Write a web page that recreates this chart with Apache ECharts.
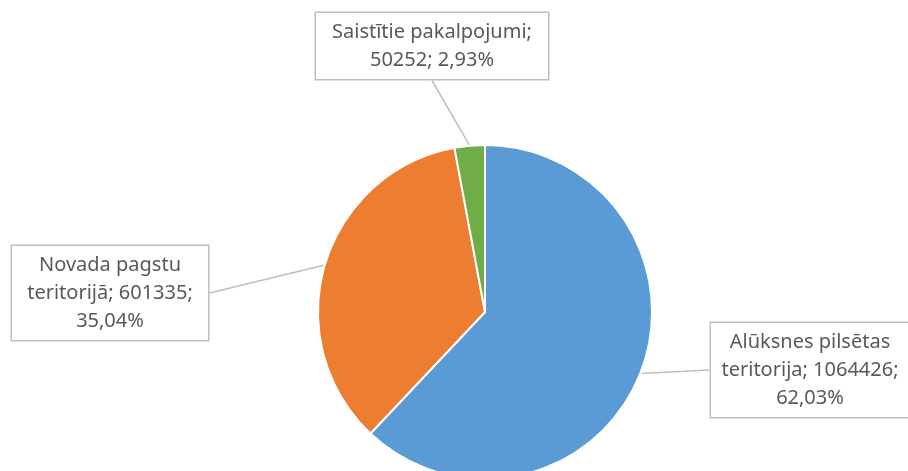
<!DOCTYPE html>
<html>
<head>
<meta charset="utf-8">
<script src="https://cdn.jsdelivr.net/npm/echarts@6/dist/echarts.min.js"></script>
<style>
  html, body { margin: 0; padding: 0; background: #fff; }
  #main { width: 908px; height: 471px; }
</style>
</head>
<body>
<div id="main"></div>
<script>
var categories = ["Alūksnes pilsētas teritorija", "Novada pagstu teritorijā", "Saistītie pakalpojumi"];
var values = [1064426, 601335, 50252];
var colors = ["#5B9BD5", "#ED7D31", "#70AD47"];

// label box centers and widths
var labelPos = [
  { x: 810, y: 370, w: 186 },
  { x: 110, y: 293, w: 184 },
  { x: 432, y: 46, w: 220 }
];

var total = values.reduce(function(a, b) { return a + b; }, 0);

var myChart = echarts.init(document.getElementById("main"));

myChart.setOption({
  animation: false,
  series: [
    {
      type: "pie",
      center: [485, 312],
      radius: 167,
      startAngle: 90,
      clockwise: true,
      itemStyle: {
        borderColor: "#fff",
        borderWidth: 2
      },
      label: {
        show: true,
        position: "outside",
        fontFamily: "Noto Sans",
        fontSize: 20,
        lineHeight: 28,
        color: "#595959",
        align: "center",
        backgroundColor: "#fff",
        borderColor: "#bfbfbf",
        borderWidth: 1.5,
        padding: [8, 6, 2, 6],
        formatter: function(p) {
          var pct = (p.value / total * 100).toFixed(2).replace(".", ",");
          if (p.dataIndex === 2) {
            return p.name + ";\n" + p.value + "; " + pct + "%";
          }
          var words = p.name.split(" ");
          var last = words.pop();
          return words.join(" ") + "\n" + last + "; " + p.value + ";\n" + pct + "%";
        }
      },
      labelLine: {
        show: true,
        length: 10,
        length2: 0,
        lineStyle: { color: "#bfbfbf", width: 1.5 }
      },
      labelLayout: function(params) {
        var lp = labelPos[params.dataIndex];
        return {
          x: lp.x,
          y: lp.y,
          align: "center",
          verticalAlign: "middle",
          width: lp.w
        };
      },
      data: categories.map(function(name, i) {
        return { name: name, value: values[i], itemStyle: { color: colors[i] } };
      })
    }
  ]
});
</script>
</body>
</html>
